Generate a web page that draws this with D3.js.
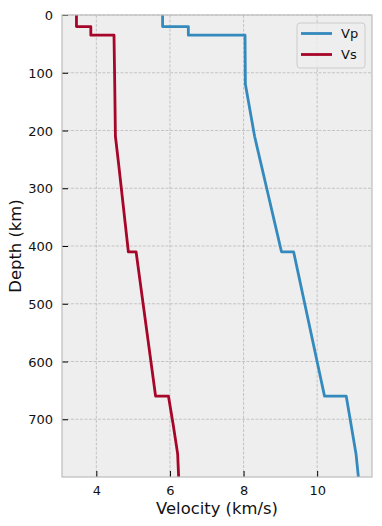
<!DOCTYPE html>
<html>
<head>
<meta charset="utf-8">
<script src="https://cdn.jsdelivr.net/npm/d3@7"></script>
<style>
  html, body { margin: 0; padding: 0; background: #fff; }
  svg { display: block; font-family: "DejaVu Sans", sans-serif; }
</style>
</head>
<body>
<div id="chart"></div>
<script>
// ak135-like upper mantle model
const DEPTH = [0, 20, 20, 35, 35, 77.5, 120, 165, 210, 260, 310, 360, 410, 410, 460, 510, 560, 610, 660, 660, 710, 760, 809.5];
const VP = [5.8, 5.8, 6.5, 6.5, 8.04, 8.045, 8.05, 8.175, 8.3, 8.4825, 8.665, 8.8475, 9.03, 9.36, 9.528, 9.696, 9.864, 10.032, 10.2, 10.79, 10.9229, 11.0558, 11.1353];
const VS = [3.46, 3.46, 3.85, 3.85, 4.48, 4.49, 4.5, 4.509, 4.518, 4.609, 4.696, 4.783, 4.87, 5.08, 5.186, 5.292, 5.398, 5.504, 5.61, 5.96, 6.0897, 6.2095, 6.2426];
const X_TICKS = [4, 6, 8, 10];
const Y_TICKS = [0, 100, 200, 300, 400, 500, 600, 700];
const SERIES = [
  { name: "Vp", values: VP, color: "#348ABD" },
  { name: "Vs", values: VS, color: "#A60628" }
];

const width = 382, height = 526;
const margin = { top: 15, right: 10, bottom: 49, left: 62 };

const svg = d3.select("#chart").append("svg")
  .attr("width", width).attr("height", height);

const x = d3.scaleLinear().domain([3.067, 11.49]).range([margin.left, width - margin.right]);
const y = d3.scaleLinear().domain([0, 800]).range([margin.top, height - margin.bottom]);

// background
svg.append("rect")
  .attr("x", x.range()[0]).attr("y", y.range()[0])
  .attr("width", x.range()[1] - x.range()[0])
  .attr("height", y.range()[1] - y.range()[0])
  .attr("fill", "#eeeeee");

svg.append("clipPath").attr("id", "clip")
  .append("rect")
  .attr("x", x.range()[0]).attr("y", y.range()[0])
  .attr("width", x.range()[1] - x.range()[0])
  .attr("height", y.range()[1] - y.range()[0]);

// gridlines
const grid = svg.append("g").attr("stroke", "#b2b2b2").attr("stroke-width", 0.7).attr("stroke-dasharray", "3,1.5");
grid.selectAll("line.gx").data(X_TICKS).join("line")
  .attr("x1", d => x(d)).attr("x2", d => x(d))
  .attr("y1", y.range()[0]).attr("y2", y.range()[1]);
grid.selectAll("line.gy").data(Y_TICKS).join("line")
  .attr("y1", d => y(d)).attr("y2", d => y(d))
  .attr("x1", x.range()[0]).attr("x2", x.range()[1]);

// curves
const line = d3.line().x(d => x(d[0])).y(d => y(d[1]));
svg.append("g").attr("clip-path", "url(#clip)")
  .selectAll("path").data(SERIES).join("path")
    .attr("d", s => line(s.values.map((v, i) => [v, DEPTH[i]])))
    .attr("fill", "none")
    .attr("stroke", s => s.color)
    .attr("stroke-width", 2.8)
    .attr("stroke-linejoin", "round");

// axes (inward ticks)
const xAxis = svg.append("g")
  .attr("transform", `translate(0,${y.range()[1]})`)
  .call(d3.axisBottom(x).tickValues(X_TICKS).tickSizeInner(-6).tickSizeOuter(0).tickPadding(9));
const yAxis = svg.append("g")
  .attr("transform", `translate(${x.range()[0]},0)`)
  .call(d3.axisLeft(y).tickValues(Y_TICKS).tickSizeInner(-6).tickSizeOuter(0).tickPadding(9));
[xAxis, yAxis].forEach(a => {
  a.select(".domain").remove();
  a.selectAll(".tick line").attr("stroke", "#000").attr("stroke-width", 1);
  a.selectAll(".tick text")
    .attr("fill", "#111")
    .style("font-family", "DejaVu Sans")
    .style("font-size", "13px");
});
yAxis.selectAll(".tick text").attr("dy", "0.36em");

// spines
svg.append("rect")
  .attr("x", x.range()[0]).attr("y", y.range()[0])
  .attr("width", x.range()[1] - x.range()[0])
  .attr("height", y.range()[1] - y.range()[0])
  .attr("fill", "none").attr("stroke", "#bcbcbc").attr("stroke-width", 1.2);

// labels
svg.append("text")
  .attr("x", (x.range()[0] + x.range()[1]) / 2).attr("y", 514)
  .attr("text-anchor", "middle")
  .style("font-size", "16.4px").attr("fill", "#111")
  .text("Velocity (km/s)");
svg.append("text")
  .attr("transform", `translate(21,${(y.range()[0] + y.range()[1]) / 2}) rotate(-90)`)
  .attr("text-anchor", "middle")
  .style("font-size", "16.4px").attr("fill", "#111")
  .text("Depth (km)");

// legend
const lg = svg.append("g").attr("transform", "translate(297,23)");
lg.append("rect")
  .attr("width", 68).attr("height", 45).attr("rx", 3)
  .attr("fill", "#eeeeee").attr("fill-opacity", 0.8)
  .attr("stroke", "#cccccc").attr("stroke-width", 1);
const items = lg.selectAll("g.item").data(SERIES).join("g")
  .attr("transform", (d, i) => `translate(0,${10.5 + i * 21})`);
items.append("line")
  .attr("x1", 4).attr("x2", 35)
  .attr("stroke", d => d.color).attr("stroke-width", 2.8);
items.append("text")
  .attr("x", 44).attr("dy", "0.36em")
  .style("font-size", "13px").attr("fill", "#111")
  .text(d => d.name);
</script>
</body>
</html>
